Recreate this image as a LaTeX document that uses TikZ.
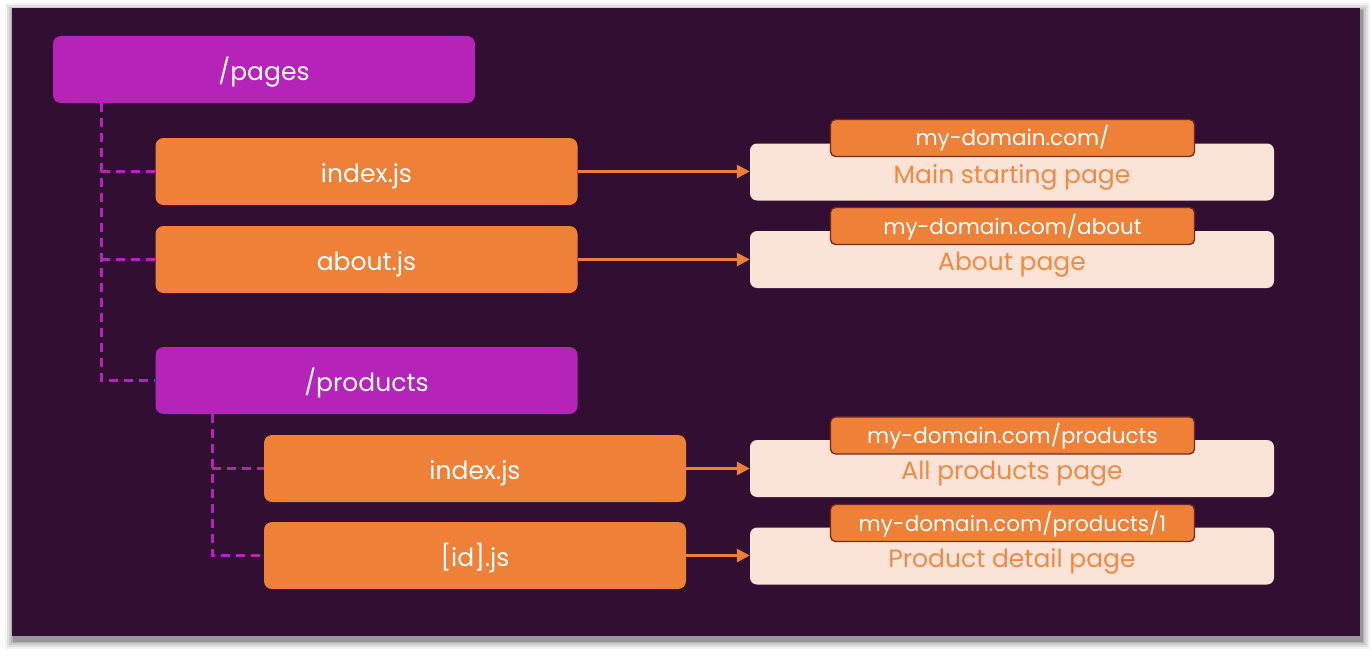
\documentclass[tikz,border=0pt]{standalone}
\usepackage{fontspec}
\setmainfont{Poppins}
\usetikzlibrary{arrows.meta}
\definecolor{bgdark}{HTML}{330E33}
\definecolor{mag}{HTML}{B523B8}
\definecolor{org}{HTML}{EE8038}
\definecolor{peach}{HTML}{FCE3D8}
\definecolor{orgtext}{HTML}{EE8A44}
\definecolor{tagborder}{HTML}{6E2A22}
\tikzset{
  bigtext/.style={font=\fontsize{25}{30}\selectfont, inner sep=0pt, text height=28pt, text depth=6pt},
  folder/.style={bigtext, fill=mag, rounded corners=8pt, minimum width=422pt, minimum height=67pt,
    text=white},
  file/.style={bigtext, fill=org, rounded corners=8pt, minimum width=422pt, minimum height=67pt,
    text=white},
  result/.style={bigtext, fill=peach, rounded corners=7pt, minimum width=524pt, minimum height=57pt,
    text=orgtext},
  tag/.style={fill=org, draw=tagborder, line width=1.3pt, rounded corners=5pt,
    minimum width=364pt, minimum height=37pt, text=white,
    font=\fontsize{21.5}{26}\selectfont, inner sep=0pt, text height=22pt, text depth=6pt},
  dashline/.style={draw=mag, line width=3pt, dash pattern=on 9pt off 6pt},
  arr/.style={draw=org, line width=3pt, -{Triangle[length=13pt,width=13pt]}},
}
\begin{document}
\begin{tikzpicture}[x=1pt,y=-1pt]
\useasboundingbox (0,0) rectangle (1372,658);
\fill[white] (0,0) rectangle (1372,658);
% shadow
\foreach \d/\o in {9/0.05,7/0.07,5/0.09,3/0.12,1.5/0.15}{
  \fill[black,opacity=\o] (12-\d+2,8-\d+4) rectangle (1360+\d+1,636+\d+4);
}
\fill[bgdark] (12,8) rectangle (1360,636);

% tree nodes
\node[folder] (pages) at (264,69.5) {/pages};
\node[file] (idx) at (366.5,171.5) {index.js};
\node[file] (about) at (366.5,259.5) {about.js};
\node[folder] (products) at (366.5,380.5) {/products};
\node[file] (pidx) at (475,468.5) {index.js};
\node[file] (pid) at (475,555.5) {[id].js};

% dashed tree lines
\coordinate (trunkA) at (101,0);
\coordinate (trunkB) at (212,0);
\draw[dashline] (pages.south -| trunkA) |- (products.west);
\draw[dashline] (trunkA |- idx.west) -- (idx.west);
\draw[dashline] (trunkA |- about.west) -- (about.west);
\draw[dashline] (products.south -| trunkB) |- (pid.west);
\draw[dashline] (trunkB |- pidx.west) -- (pidx.west);

% results
\node[result] (r1) at (1012,172) {Main starting page};
\node[tag] (t1) at (1012.5,138) {my-domain.com/};
\node[result] (r2) at (1012,259.5) {About page};
\node[tag] (t2) at (1012.5,226) {my-domain.com/about};
\node[result] (r3) at (1012,468.5) {All products page};
\node[tag] (t3) at (1012.5,435.5) {my-domain.com/products};
\node[result] (r4) at (1012,556) {Product detail page};
\node[tag] (t4) at (1012.5,523) {my-domain.com/products/1};

% arrows
\draw[arr] (idx.east) -- (idx.east -| r1.west);
\draw[arr] (about.east) -- (about.east -| r2.west);
\draw[arr] (pidx.east) -- (pidx.east -| r3.west);
\draw[arr] (pid.east) -- (pid.east -| r4.west);
\end{tikzpicture}
\end{document}
